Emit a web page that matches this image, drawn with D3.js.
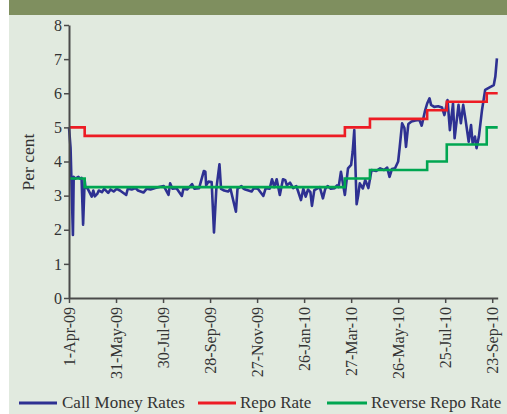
<!DOCTYPE html>
<html>
<head>
<meta charset="utf-8">
<script src="https://cdn.jsdelivr.net/npm/d3@7"></script>
<style>
  html, body { margin: 0; padding: 0; background: #ffffff; }
  svg { display: block; }
</style>
</head>
<body>
<svg id="chart" width="507" height="414"></svg>
<script>
// ---------- DATA ----------
const tickLabels = ["1-Apr-09","31-May-09","30-Jul-09","28-Sep-09","27-Nov-09","26-Jan-10","27-Mar-10","26-May-10","25-Jul-10","23-Sep-10"];
const yTicks = [0,1,2,3,4,5,6,7,8];
const seriesNames = ["Call Money Rates","Repo Rate","Reverse Repo Rate"];

const callDates = [
"2009-04-01","2009-04-03","2009-04-06","2009-04-07","2009-04-09","2009-04-13","2009-04-15","2009-04-17","2009-04-19","2009-04-21",
"2009-04-22","2009-04-25","2009-04-30","2009-05-02","2009-05-04","2009-05-07","2009-05-09","2009-05-13","2009-05-16","2009-05-21",
"2009-05-24","2009-05-28","2009-06-01","2009-06-05","2009-06-13","2009-06-15","2009-06-20","2009-06-25","2009-06-28","2009-07-05",
"2009-07-09","2009-07-14","2009-07-20","2009-07-25","2009-07-31","2009-08-06","2009-08-08","2009-08-11","2009-08-16","2009-08-23",
"2009-08-25","2009-08-30","2009-09-05","2009-09-08","2009-09-14","2009-09-20","2009-09-22","2009-09-23","2009-09-26","2009-09-30",
"2009-10-03","2009-10-06","2009-10-10","2009-10-12","2009-10-16","2009-10-21","2009-10-24","2009-10-31","2009-11-02","2009-11-07",
"2009-11-10","2009-11-12","2009-11-20","2009-11-23","2009-11-28","2009-12-05","2009-12-08","2009-12-13","2009-12-16","2009-12-19",
"2009-12-22","2009-12-26","2009-12-30","2010-01-02","2010-01-04","2010-01-08","2010-01-12","2010-01-16","2010-01-18","2010-01-22",
"2010-01-25","2010-01-28","2010-01-31","2010-02-03","2010-02-05","2010-02-08","2010-02-11","2010-02-15","2010-02-19","2010-02-22",
"2010-02-25","2010-03-01","2010-03-06","2010-03-09","2010-03-11","2010-03-14","2010-03-19","2010-03-23","2010-03-27","2010-03-29",
"2010-03-31","2010-04-03","2010-04-05","2010-04-07","2010-04-11","2010-04-14","2010-04-18","2010-04-22","2010-04-28","2010-05-03",
"2010-05-08","2010-05-12","2010-05-15","2010-05-18","2010-05-22","2010-05-26","2010-05-28","2010-05-31","2010-06-03","2010-06-05",
"2010-06-08","2010-06-12","2010-06-17","2010-06-22","2010-06-25","2010-06-27","2010-06-29","2010-07-02","2010-07-05","2010-07-07",
"2010-07-11","2010-07-16","2010-07-21","2010-07-24","2010-07-28","2010-07-31","2010-08-04","2010-08-06","2010-08-11","2010-08-14",
"2010-08-17","2010-08-20","2010-08-24","2010-08-27","2010-08-29","2010-09-01","2010-09-03","2010-09-06","2010-09-10","2010-09-14",
"2010-09-18","2010-09-22","2010-09-25","2010-09-27","2010-09-29"
];
const callValues = [
5.00,4.40,1.85,3.55,3.50,3.55,3.50,3.52,2.15,3.45,
3.25,3.20,2.97,3.15,2.98,3.05,3.15,3.10,3.20,3.08,
3.18,3.12,3.20,3.15,3.02,3.20,3.18,3.22,3.15,3.09,
3.20,3.18,3.22,3.25,3.28,3.02,3.36,3.20,3.22,2.99,
3.20,3.18,3.34,3.20,3.22,3.72,3.70,3.30,3.41,3.40,
1.92,3.20,3.92,3.20,3.15,3.12,3.20,2.53,3.20,3.28,
3.20,3.18,3.12,3.22,3.20,2.99,3.22,3.20,3.48,3.25,
3.48,3.02,3.48,3.45,3.30,3.38,3.22,3.28,3.15,2.87,
3.20,2.97,3.18,3.10,2.70,3.16,3.20,3.25,2.92,3.20,
3.28,3.20,3.22,3.30,3.25,3.70,3.02,3.80,3.90,4.30,
4.92,2.75,3.00,3.36,3.21,3.46,3.22,3.75,3.72,3.80,
3.75,3.82,3.55,3.78,3.80,4.00,4.43,5.12,4.98,4.43,
5.10,5.17,5.20,5.22,5.05,5.25,5.46,5.70,5.85,5.66,
5.60,5.62,5.58,5.36,5.80,4.92,5.70,4.68,5.66,5.12,
5.66,5.22,4.58,5.07,4.53,4.73,4.39,4.73,5.51,6.10,
6.15,6.20,6.24,6.49,7.02
];

const repoDates = ["2009-04-01","2009-04-21","2010-03-19","2010-04-20","2010-07-02","2010-07-27","2010-09-16","2010-09-30"];
const repoValues = [5.00,4.75,5.00,5.25,5.50,5.75,6.00,6.00];
const revRepoDates = ["2009-04-01","2009-04-21","2010-03-19","2010-04-20","2010-07-02","2010-07-27","2010-09-16","2010-09-30"];
const revRepoValues = [3.50,3.25,3.50,3.75,4.00,4.50,5.00,5.00];

// ---------- DRAW ----------
const parseISO = d3.timeParse("%Y-%m-%d");
const parseTick = d3.timeParse("%d-%b-%y");
const svg = d3.select("#chart");
const W = 507, H = 414;

const colors = { call: "#2E3192", repo: "#ED1C24", rev: "#00A651", axis: "#4a4a4a" };
const serif = "'Liberation Serif', 'Times New Roman', serif";

// panel background and header bar
svg.append("rect").attr("x", 9).attr("y", 0).attr("width", W - 9).attr("height", H).attr("fill", "#E1EADF");
svg.append("rect").attr("x", 9).attr("y", 0).attr("width", W - 9).attr("height", 15).attr("fill", "#7F8F5F");

const x = d3.scaleTime()
  .domain([parseISO("2009-04-01"), parseISO("2010-09-30")])
  .range([69, 497.7]);
const y = d3.scaleLinear().domain([0, 8]).range([298, 25]);

const mk = (dates, vals) => dates.map((d, i) => ({ date: parseISO(d), v: vals[i] }));
const callData = mk(callDates, callValues);
const repoData = mk(repoDates, repoValues);
const revData = mk(revRepoDates, revRepoValues);

const line = d3.line().x(d => x(d.date)).y(d => y(d.v));
const stepLine = d3.line().x(d => x(d.date)).y(d => y(d.v)).curve(d3.curveStepAfter);

svg.append("path").datum(callData).attr("d", line)
  .attr("fill", "none").attr("stroke", colors.call).attr("stroke-width", 2.6).attr("stroke-linejoin", "round");
svg.append("path").datum(repoData).attr("d", stepLine)
  .attr("fill", "none").attr("stroke", colors.repo).attr("stroke-width", 2.6);
svg.append("path").datum(revData).attr("d", stepLine)
  .attr("fill", "none").attr("stroke", colors.rev).attr("stroke-width", 2.6);

// Y axis
const yAxis = svg.append("g").attr("transform", "translate(69,0)")
  .call(d3.axisLeft(y).tickValues(yTicks).tickSize(5).tickPadding(2).tickSizeOuter(0));
yAxis.select(".domain").attr("stroke", colors.axis).attr("stroke-width", 2);
yAxis.selectAll(".tick line").attr("stroke", colors.axis).attr("stroke-width", 1.5);
yAxis.selectAll(".tick text").attr("fill", "#333").style("font-family", serif).style("font-size", "16px");

// X axis
const xAxis = svg.append("g").attr("transform", "translate(0,298)")
  .call(d3.axisBottom(x).tickValues(tickLabels.map(t => parseTick(t)))
    .tickFormat((d, i) => tickLabels[i]).tickSize(5).tickSizeOuter(0));
xAxis.select(".domain").attr("stroke", colors.axis).attr("stroke-width", 2);
xAxis.selectAll(".tick line").attr("stroke", colors.axis).attr("stroke-width", 1.5);
xAxis.selectAll(".tick text")
  .attr("fill", "#333")
  .style("font-family", serif).style("font-size", "16px")
  .attr("text-anchor", "end")
  .attr("transform", "rotate(-90)")
  .attr("x", -9).attr("y", 0).attr("dy", "0.35em");

// Y axis title
svg.append("text").attr("transform", "translate(34,162) rotate(-90)")
  .attr("text-anchor", "middle").attr("fill", "#333")
  .style("font-family", serif).style("font-size", "17.5px")
  .text("Per cent");

// Legend
const legendItems = [
  { name: seriesNames[0], color: colors.call, x1: 19, x2: 57, tx: 62 },
  { name: seriesNames[1], color: colors.repo, x1: 198, x2: 236, tx: 240 },
  { name: seriesNames[2], color: colors.rev, x1: 327, x2: 367, tx: 371 }
];
const lg = svg.append("g");
legendItems.forEach(it => {
  lg.append("line").attr("x1", it.x1).attr("x2", it.x2).attr("y1", 403).attr("y2", 403)
    .attr("stroke", it.color).attr("stroke-width", 3);
  lg.append("text").attr("x", it.tx).attr("y", 408).attr("fill", "#333")
    .style("font-family", serif).style("font-size", "17px").text(it.name);
});
</script>
</body>
</html>
